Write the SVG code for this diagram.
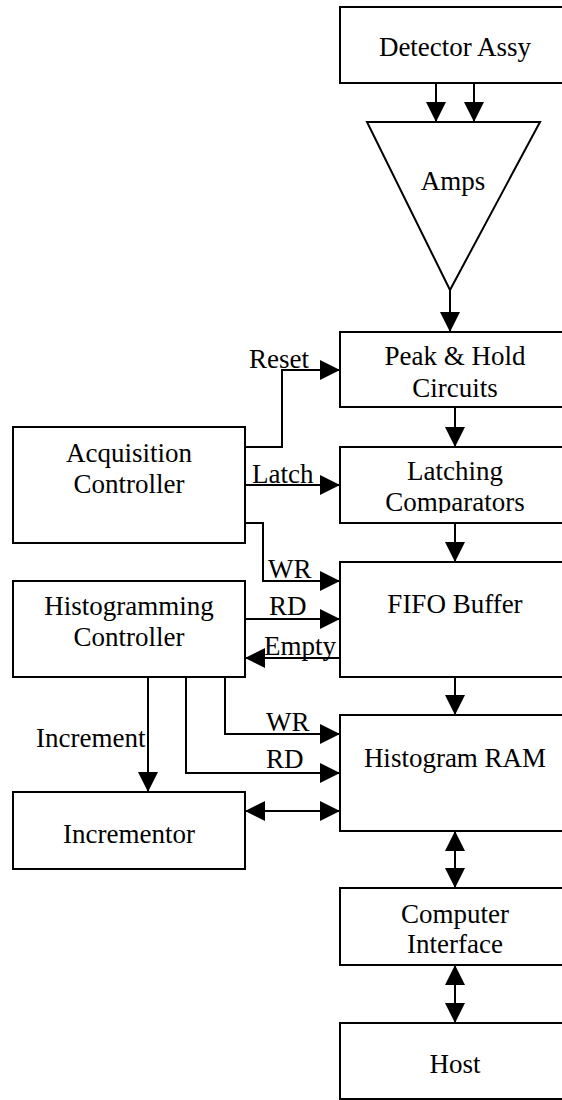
<svg xmlns="http://www.w3.org/2000/svg" width="562" height="1100" viewBox="0 0 562 1100" font-family="'Liberation Serif', 'Times New Roman', Tinos, 'Noto Serif', 'DejaVu Serif', serif">
<style>
.box{fill:#fff;stroke:#000;stroke-width:2}
.t{font-family:'Liberation Serif','Times New Roman',Tinos,'Noto Serif','DejaVu Serif',serif;font-size:27px;fill:#000}
.c{text-anchor:middle}
.ln{fill:none;stroke:#000;stroke-width:2}
</style>
<defs>
<marker id="ah" markerUnits="userSpaceOnUse" markerWidth="20" markerHeight="20" refX="20" refY="10" orient="auto-start-reverse">
<path d="M0,0 L20,10 L0,20 Z" fill="#000"/>
</marker>
<clipPath id="clipLC"><rect x="340" y="447" width="240" height="66"/></clipPath>
</defs>
<rect width="562" height="1100" fill="#fff"/>

<g id="detector">
<rect class="box" x="340" y="7" width="240" height="76"/>
<text class="t c" x="455" y="56">Detector Assy</text>
</g>
<g id="amps">
<polygon class="box" points="367,122 540,122 450,290"/>
<text class="t c" x="453" y="190">Amps</text>
</g>
<g id="peak">
<rect class="box" x="340" y="332" width="240" height="75"/>
<text class="t c" x="455" y="365">Peak &amp; Hold</text>
<text class="t c" x="455" y="397">Circuits</text>
</g>
<g id="latching">
<rect class="box" x="340" y="447" width="240" height="76"/>
<text class="t c" x="455" y="480">Latching</text>
<text class="t c" x="455" y="511" clip-path="url(#clipLC)">Comparators</text>
</g>
<g id="fifo">
<rect class="box" x="340" y="562" width="240" height="115"/>
<text class="t c" x="455" y="613">FIFO Buffer</text>
</g>
<g id="ram">
<rect class="box" x="340" y="715" width="240" height="116"/>
<text class="t c" x="455" y="767">Histogram RAM</text>
</g>
<g id="interface">
<rect class="box" x="340" y="888" width="240" height="77"/>
<text class="t c" x="455" y="923">Computer</text>
<text class="t c" x="455" y="953">Interface</text>
</g>
<g id="host">
<rect class="box" x="340" y="1023" width="240" height="76"/>
<text class="t c" x="455" y="1073">Host</text>
</g>
<g id="acq">
<rect class="box" x="13" y="427" width="232" height="116"/>
<text class="t c" x="129" y="462">Acquisition</text>
<text class="t c" x="129" y="493">Controller</text>
</g>
<g id="histctl">
<rect class="box" x="13" y="581" width="232" height="96"/>
<text class="t c" x="129" y="615">Histogramming</text>
<text class="t c" x="129" y="646">Controller</text>
</g>
<g id="incrementor">
<rect class="box" x="13" y="792" width="232" height="77"/>
<text class="t c" x="129" y="843">Incrementor</text>
</g>

<g id="connectors">
<line class="ln" x1="436" y1="83" x2="436" y2="122" marker-end="url(#ah)"/>
<line class="ln" x1="474" y1="83" x2="474" y2="122" marker-end="url(#ah)"/>
<line class="ln" x1="450" y1="290" x2="450" y2="332" marker-end="url(#ah)"/>
<line class="ln" x1="455" y1="407" x2="455" y2="447" marker-end="url(#ah)"/>
<line class="ln" x1="455" y1="523" x2="455" y2="562" marker-end="url(#ah)"/>
<line class="ln" x1="455" y1="677" x2="455" y2="715" marker-end="url(#ah)"/>
<line class="ln" x1="455" y1="831" x2="455" y2="888" marker-start="url(#ah)" marker-end="url(#ah)"/>
<line class="ln" x1="455" y1="965" x2="455" y2="1023" marker-start="url(#ah)" marker-end="url(#ah)"/>
<polyline class="ln" points="245,447 282,447 282,370 340,370" marker-end="url(#ah)"/>
<line class="ln" x1="245" y1="485" x2="340" y2="485" marker-end="url(#ah)"/>
<polyline class="ln" points="245,523 263,523 263,581 340,581" marker-end="url(#ah)"/>
<line class="ln" x1="245" y1="619" x2="340" y2="619" marker-end="url(#ah)"/>
<line class="ln" x1="340" y1="658" x2="245" y2="658" marker-end="url(#ah)"/>
<line class="ln" x1="148" y1="677" x2="148" y2="792" marker-end="url(#ah)"/>
<polyline class="ln" points="225,677 225,734 340,734" marker-end="url(#ah)"/>
<polyline class="ln" points="186,677 186,773 340,773" marker-end="url(#ah)"/>
<line class="ln" x1="245" y1="811" x2="340" y2="811" marker-start="url(#ah)" marker-end="url(#ah)"/>
<text class="t" x="249" y="368">Reset</text>
<text class="t" x="252" y="483">Latch</text>
<text class="t" x="268" y="578">WR</text>
<text class="t" x="269" y="615">RD</text>
<text class="t" x="264" y="655">Empty</text>
<text class="t" x="36" y="747">Increment</text>
<text class="t" x="266" y="731">WR</text>
<text class="t" x="266" y="768">RD</text>
</g>
</svg>
